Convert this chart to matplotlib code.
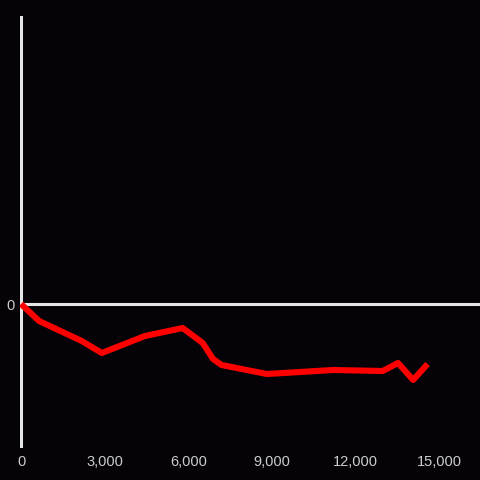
import matplotlib
matplotlib.use("Agg")
import matplotlib.pyplot as plt
from matplotlib.ticker import FuncFormatter

x_values = [0, 650, 2180, 2900, 4450, 5800, 6520, 6890, 7200, 8820, 11200, 12980, 13530, 14070, 14590]
y_values = [0, -17, -37, -49, -32, -24, -39, -55, -61, -70, -66, -67, -59, -76, -60]
x_ticks = [0, 3000, 6000, 9000, 12000, 15000]
y_ticks = [0]

bg = "#050308"
fig = plt.figure(figsize=(4.8, 4.8), dpi=100, facecolor=bg)
ax = fig.add_axes([20/480, 32/480, 460/480, 432/480], facecolor=bg)

ax.set_xlim(-36, 16470)
ax.set_ylim(-144, 288)

ax.axvline(0, color="#e6e6e6", lw=2.2, zorder=2)
ax.axhline(0, color="#e6e6e6", lw=2.2, zorder=2)
ax.plot(x_values, y_values, color="#ff0000", lw=4.4, solid_joinstyle="round", solid_capstyle="butt", zorder=3)

for s in ax.spines.values():
    s.set_visible(False)

ax.set_xticks(x_ticks)
ax.xaxis.set_major_formatter(FuncFormatter(lambda v, p: f"{int(v):,}"))
ax.set_yticks(y_ticks)
ax.set_yticklabels(["0"])
ax.tick_params(axis="both", length=0, colors="#cccccc", labelsize=10.5)
ax.tick_params(axis="x", pad=5)
ax.tick_params(axis="y", pad=4)
for t in ax.get_xticklabels() + ax.get_yticklabels():
    t.set_fontfamily("Liberation Sans")

fig.savefig("out.png", dpi=100, facecolor=bg)
